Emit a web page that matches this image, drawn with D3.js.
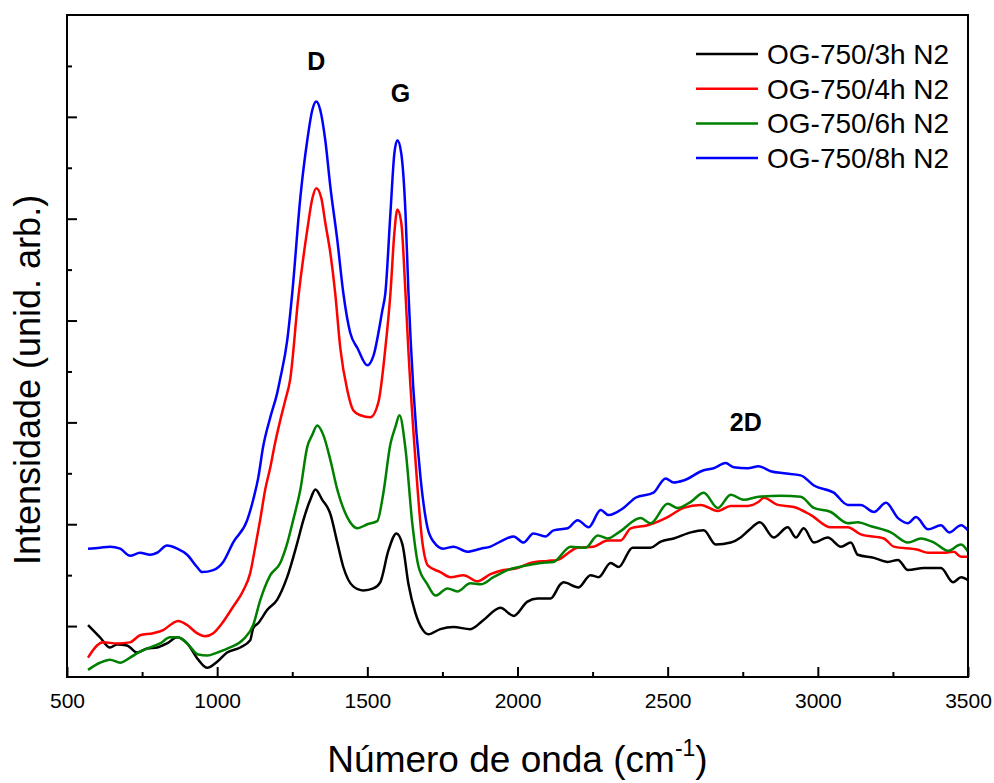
<!DOCTYPE html>
<html>
<head>
<meta charset="utf-8">
<script src="https://cdn.jsdelivr.net/npm/d3@7/dist/d3.min.js"></script>
<style>
  body { margin: 0; background: #fff; }
  text { font-family: Arial, "Liberation Sans", sans-serif; fill: #000; }
</style>
</head>
<body>
<svg id="raman" width="994" height="783"></svg>
<script>
// series labels, in legend order
var seriesNames = ["OG-750/3h N2", "OG-750/4h N2", "OG-750/6h N2", "OG-750/8h N2"];
var seriesColors = ["#000000", "#ff0000", "#008000", "#0000ff"];

// [wavenumber (cm-1), intensity (arb.)]
var og3h = [[570,1],[610,-11],[643,-21],[667,-18],[700,-19],[733,-26],[767,-22],[800,-21],[833,-17],[867,-11],
  [900,-17],[937,-33],[967,-41],[1000,-35],[1033,-26],[1077,-21],[1110,-14],[1120,-2],[1137,3],[1167,16],
  [1200,26],[1233,48],[1267,82],[1287,104],[1310,124],[1327,134],[1350,124],[1377,110],[1400,82],[1420,58],
  [1453,39],[1487,35],[1520,37],[1543,43],[1570,74],[1597,91],[1617,80],[1637,41],[1660,13],[1683,-3],
  [1703,-8],[1743,-3],[1787,-1],[1843,-3],[1887,6],[1943,18],[1987,10],[2033,24],[2067,27],[2110,27],
  [2143,41],[2153,43],[2203,38],[2243,50],[2270,48],[2310,62],[2337,58],[2383,77],[2443,77],[2477,83],
  [2520,86],[2577,92],[2620,94],[2660,80],[2710,82],[2743,87],[2770,94],[2807,102],[2853,87],[2900,97],
  [2927,87],[2953,96],[2987,82],[3033,87],[3077,78],[3110,82],[3133,70],[3187,67],[3233,63],[3267,65],
  [3300,55],[3353,57],[3410,57],[3450,43],[3477,48],[3500,45]];

var og4h = [[570,-31],[600,-19],[620,-16],[667,-17],[710,-16],[743,-9],[787,-7],[820,-4],[853,3],[870,5],
  [900,1],[933,-7],[960,-10],[987,-7],[1017,3],[1053,19],[1087,35],[1110,52],[1127,78],[1143,104],
  [1160,134],[1177,156],[1193,180],[1210,202],[1227,222],[1243,242],[1270,322],[1300,389],[1317,420],[1330,430],
  [1347,420],[1360,396],[1377,366],[1393,327],[1410,273],[1433,232],[1453,212],[1477,207],[1510,205],[1537,220],
  [1560,273],[1577,327],[1590,386],[1600,409],[1613,396],[1627,327],[1637,269],[1660,164],[1683,83],[1703,59],
  [1743,53],[1777,48],[1820,50],[1867,44],[1910,51],[1953,55],[2000,57],[2043,62],[2100,64],[2133,65],
  [2200,77],[2253,78],[2300,84],[2343,84],[2377,96],[2433,99],[2500,107],[2553,116],[2610,119],[2667,113],
  [2710,118],[2767,118],[2803,122],[2820,126],[2867,119],[2920,117],[2977,109],[3043,97],[3100,97],[3143,90],
  [3220,86],[3253,78],[3333,75],[3367,72],[3420,72],[3453,73],[3477,68],[3500,68]];

var og6h = [[570,-43],[610,-36],[643,-33],[677,-36],[710,-31],[743,-25],[777,-21],[810,-17],[843,-11],[870,-11],
  [900,-17],[937,-28],[967,-29],[1000,-26],[1043,-21],[1087,-13],[1120,1],[1143,25],[1177,50],[1210,62],
  [1233,81],[1253,104],[1277,134],[1300,176],[1317,188],[1333,197],[1353,188],[1377,163],[1400,134],[1433,107],
  [1467,96],[1500,100],[1533,103],[1553,130],[1577,179],[1593,195],[1607,207],[1627,174],[1650,100],[1670,59],
  [1700,41],[1727,30],[1767,37],[1800,34],[1843,42],[1877,41],[1920,48],[1967,55],[2020,59],[2077,62],
  [2120,63],[2177,78],[2227,77],[2267,89],[2300,86],[2337,92],[2410,106],[2443,101],[2500,120],[2533,116],
  [2577,122],[2620,131],[2667,116],[2710,129],[2753,124],[2803,127],[2877,128],[2943,127],[2987,116],[3043,112],
  [3100,101],[3133,102],[3177,98],[3243,92],[3300,82],[3343,86],[3387,82],[3433,74],[3477,80],[3500,73]];

var og8h = [[570,76],[610,77],[643,78],[677,76],[710,69],[743,72],[777,70],[800,72],[833,79],[867,76],
  [900,70],[933,58],[950,53],[987,55],[1020,63],[1053,82],[1100,104],[1120,124],[1137,146],[1153,176],
  [1177,205],[1200,229],[1210,243],[1233,280],[1250,327],[1277,421],[1300,477],[1317,507],[1330,515],[1343,507],
  [1360,477],[1377,431],[1400,379],[1420,327],[1443,288],[1467,273],[1500,256],[1520,265],[1550,310],[1560,327],
  [1577,406],[1590,464],[1600,477],[1613,464],[1627,406],[1637,327],[1653,234],[1677,146],[1700,97],[1720,83],
  [1753,76],[1787,78],[1833,73],[1877,76],[1910,78],[1943,83],[1987,88],[2020,82],[2053,91],[2093,88],
  [2120,94],[2167,96],[2200,104],[2237,97],[2277,114],[2303,109],[2353,116],[2393,126],[2453,131],[2493,145],
  [2520,141],[2553,143],[2620,153],[2653,155],[2693,160],[2720,156],[2767,155],[2803,157],[2843,152],[2887,150],
  [2943,148],[2987,138],[3053,131],[3100,119],[3143,119],[3187,112],[3227,121],[3267,106],[3300,101],[3327,107],
  [3367,95],[3410,99],[3437,92],[3477,99],[3500,94]];

var seriesData = [og3h, og4h, og6h, og8h];

// axis ticks
var xMajor = [500, 1000, 1500, 2000, 2500, 3000, 3500];
var xMinor = [750, 1250, 1750, 2250, 2750, 3250];
var yMajor = [0, 100, 200, 300, 400, 500];
var yMinor = [50, 150, 250, 350, 450, 550];

// band labels
var bands = [
  {name: "D", x: 1330, y: 546},
  {name: "G", x: 1610, y: 515},
  {name: "2D", x: 2760, y: 192}
];

var svg = d3.select("#raman");
var padding = {top: 15, right: 26, bottom: 106, left: 67};
var width = +svg.attr("width");
var height = +svg.attr("height");

var xScale = d3.scaleLinear()
               .domain([500, 3500])
               .range([padding.left, width - padding.right]);

var yScale = d3.scaleLinear()
               .domain([-50, 600])
               .range([height - padding.bottom, padding.top]);

var line = d3.line()
             .x(d => xScale(d[0]))
             .y(d => yScale(d[1]))
             .curve(d3.curveMonotoneX);

svg.selectAll(".spectrum")
    .data(seriesData)
    .enter()
    .append("path")
      .classed("spectrum", true)
      .attr("d", line)
      .attr("fill", "none")
      .attr("stroke", (d, i) => seriesColors[i])
      .attr("stroke-width", 2.5)
      .attr("stroke-linejoin", "round");

// ticks point inward
var xAxis = d3.axisBottom(xScale)
              .tickValues(xMajor)
              .tickFormat(d3.format("d"))
              .tickSizeInner(-10)
              .tickSizeOuter(0)
              .tickPadding(16);
var xAxisMinor = d3.axisBottom(xScale)
                   .tickValues(xMinor)
                   .tickSize(-5)
                   .tickFormat("");
var yAxis = d3.axisLeft(yScale)
              .tickValues(yMajor)
              .tickSize(-10)
              .tickFormat("");
var yAxisMinor = d3.axisLeft(yScale)
                   .tickValues(yMinor)
                   .tickSize(-5)
                   .tickFormat("");

var bottom = height - padding.bottom;
[xAxis, xAxisMinor].forEach(function(ax) {
  svg.append("g")
      .attr("transform", "translate(0," + bottom + ")")
      .call(ax);
});
[yAxis, yAxisMinor].forEach(function(ax) {
  svg.append("g")
      .attr("transform", "translate(" + padding.left + ",0)")
      .call(ax);
});

svg.selectAll(".domain").remove();
svg.selectAll(".tick line")
    .attr("stroke", "#000")
    .attr("stroke-width", 2);
svg.selectAll(".tick text")
    .attr("font-size", 21)
    .attr("font-family", "Arial, 'Liberation Sans', sans-serif")
    .attr("fill", "#000");

svg.append("rect")
    .attr("x", padding.left)
    .attr("y", padding.top)
    .attr("width", width - padding.left - padding.right)
    .attr("height", height - padding.top - padding.bottom)
    .attr("fill", "none")
    .attr("stroke", "#000")
    .attr("stroke-width", 2);

// axis titles
var xTitle = svg.append("text")
    .attr("x", (padding.left + width - padding.right) / 2)
    .attr("y", 772)
    .attr("text-anchor", "middle")
    .attr("font-size", 37);
xTitle.append("tspan").text("Número de onda (cm");
xTitle.append("tspan").attr("dy", -16).attr("font-size", 23).text("-1");
xTitle.append("tspan").attr("dy", 16).text(")");

svg.append("text")
    .attr("transform", "translate(40," + ((padding.top + bottom) / 2 + 34) + ") rotate(-90)")
    .attr("text-anchor", "middle")
    .attr("font-size", 36)
    .text("Intensidade (unid. arb.)");

svg.selectAll(".band")
    .data(bands)
    .enter()
    .append("text")
      .classed("band", true)
      .attr("x", d => xScale(d.x))
      .attr("y", d => yScale(d.y))
      .attr("text-anchor", "middle")
      .attr("font-size", 25)
      .attr("font-weight", "bold")
      .text(d => d.name);

var legend = svg.append("g")
    .attr("transform", "translate(696,54)");

var rows = legend.selectAll(".row")
    .data(seriesNames)
    .enter()
    .append("g")
      .classed("row", true)
      .attr("transform", (d, i) => "translate(0," + (i * 34.7) + ")");

rows.append("line")
    .attr("x1", 0)
    .attr("x2", 62)
    .attr("stroke", (d, i) => seriesColors[i])
    .attr("stroke-width", 2.5);

rows.append("text")
    .attr("x", 71)
    .attr("y", 10)
    .attr("font-size", 28)
    .text(d => d);
</script>
</body>
</html>
